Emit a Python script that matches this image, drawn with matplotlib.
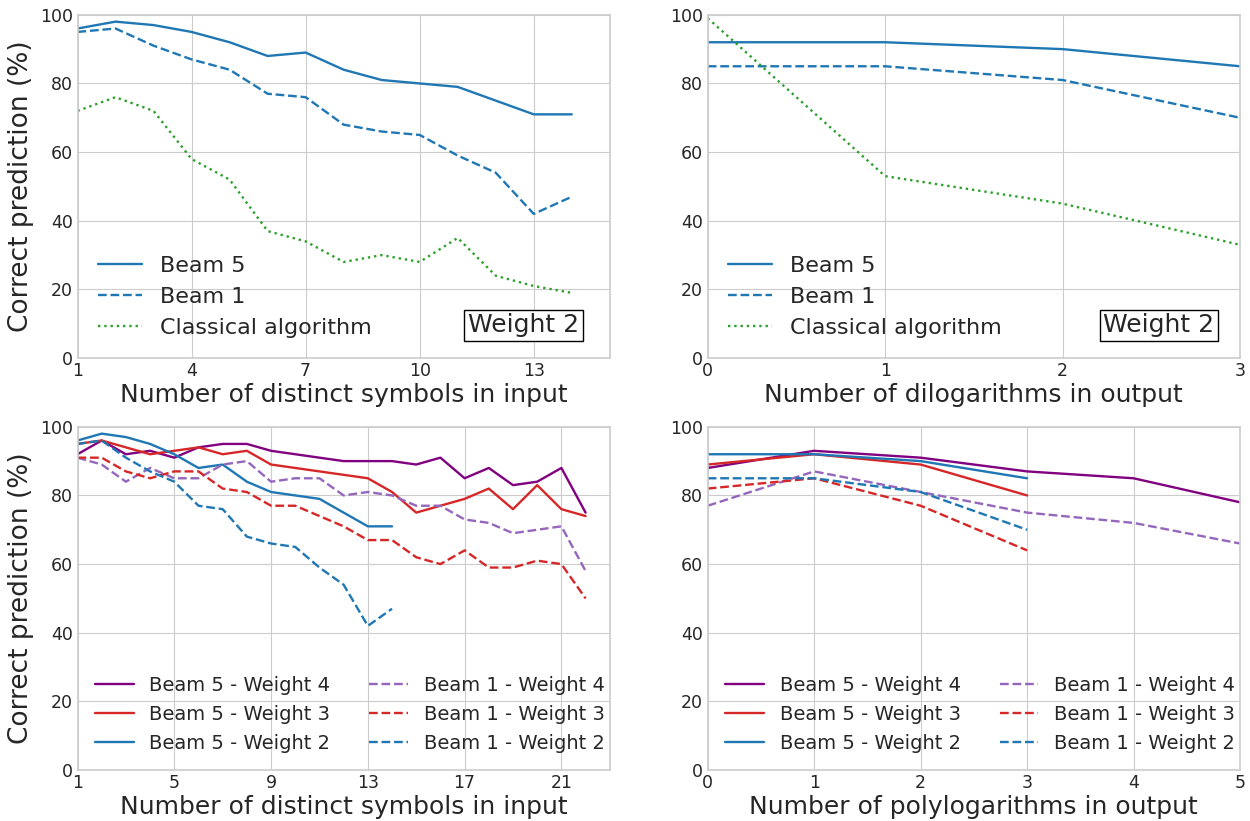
import matplotlib
matplotlib.use("Agg")
from matplotlib import pyplot as plt

plt.style.use("seaborn-v0_8-whitegrid")
plt.rcParams["font.family"] = ["DejaVu Sans"]

# top left: weight 2, distinct symbols in input
sym_x = list(range(1, 15))
sym_beam5 = [96, 98, 97, 95, 92, 88, 89, 84, 81, 80, 79, 75, 71, 71]
sym_beam1 = [95, 96, 91, 87, 84, 77, 76, 68, 66, 65, 59, 54, 42, 47]
sym_classical = [72, 76, 72, 58, 52, 37, 34, 28, 30, 28, 35, 24, 21, 19]

# top right: weight 2, dilogarithms in output
dilog_x = [0, 1, 2, 3]
dilog_beam5 = [92, 92, 90, 85]
dilog_beam1 = [85, 85, 81, 70]
dilog_classical = [99, 53, 45, 33]

# bottom left: all weights, distinct symbols in input
sym_x_long = list(range(1, 23))
sym_b5_w4 = [92, 96, 92, 93, 91, 94, 95, 95, 93, 92, 91, 90, 90, 90, 89, 91, 85, 88, 83, 84, 88, 75]
sym_b5_w3 = [95, 96, 94, 92, 93, 94, 92, 93, 89, 88, 87, 86, 85, 81, 75, 77, 79, 82, 76, 83, 76, 74]
sym_b1_w4 = [91, 89, 84, 88, 85, 85, 89, 90, 84, 85, 85, 80, 81, 80, 77, 77, 73, 72, 69, 70, 71, 58]
sym_b1_w3 = [91, 91, 87, 85, 87, 87, 82, 81, 77, 77, 74, 71, 67, 67, 62, 60, 64, 59, 59, 61, 60, 50]

# bottom right: all weights, polylogarithms in output
poly_x_long = [0, 1, 2, 3, 4, 5]
poly_x = [0, 1, 2, 3]
poly_b5_w4 = [88, 93, 91, 87, 85, 78]
poly_b5_w3 = [89, 92, 89, 80]
poly_b5_w2 = [92, 92, 90, 85]
poly_b1_w4 = [77, 87, 81, 75, 72, 66]
poly_b1_w3 = [82, 85, 77, 64]
poly_b1_w2 = [85, 85, 81, 70]

BLUE = "#1f77b4"
GREEN = "#2ca02c"
RED = "#d62728"
PURPLE = "purple"
LPURPLE = "#9467bd"
LW = 1.7

fig, axes = plt.subplots(2, 2, figsize=(12.5, 8.21), dpi=100)
fig.subplots_adjust(left=0.062, right=0.992, top=0.982, bottom=0.062,
                    wspace=0.184, hspace=0.2)
ax1, ax2, ax3, ax4 = axes.flat

for ax in axes.flat:
    ax.set_ylim(0, 100)
    ax.set_yticks([0, 20, 40, 60, 80, 100])
    ax.tick_params(labelsize=12.5)
    ax.tick_params(axis="x", pad=3)
    for s in ax.spines.values():
        s.set_visible(True)
        s.set_color("#cccccc")
        s.set_linewidth(1.2)

# --- top left
ax1.plot(sym_x, sym_beam5, color=BLUE, ls="-", lw=LW, label="Beam 5")
ax1.plot(sym_x, sym_beam1, color=BLUE, ls="--", lw=LW, label="Beam 1")
ax1.plot(sym_x, sym_classical, color=GREEN, ls=":", lw=LW, label="Classical algorithm")
ax1.set_xlim(1, 15)
ax1.set_xticks([1, 4, 7, 10, 13])
ax1.set_xlabel("Number of distinct symbols in input", fontsize=18, labelpad=2)
ax1.set_ylabel("Correct prediction (%)", fontsize=19)
ax1.legend(loc="lower left", fontsize=16, frameon=False)
ax1.text(0.942, 0.095, "Weight 2", transform=ax1.transAxes, ha="right", va="center",
         fontsize=18, bbox=dict(boxstyle="square,pad=0.15", fc="white", ec="black"))

# --- top right
ax2.plot(dilog_x, dilog_beam5, color=BLUE, ls="-", lw=LW, label="Beam 5")
ax2.plot(dilog_x, dilog_beam1, color=BLUE, ls="--", lw=LW, label="Beam 1")
ax2.plot(dilog_x, dilog_classical, color=GREEN, ls=":", lw=LW, label="Classical algorithm")
ax2.set_xlim(0, 3)
ax2.set_xticks([0, 1, 2, 3])
ax2.set_xlabel("Number of dilogarithms in output", fontsize=18, labelpad=2)
ax2.legend(loc="lower left", fontsize=16, frameon=False)
ax2.text(0.952, 0.095, "Weight 2", transform=ax2.transAxes, ha="right", va="center",
         fontsize=18, bbox=dict(boxstyle="square,pad=0.15", fc="white", ec="black"))

# --- bottom left
ax3.plot(sym_x_long, sym_b5_w4, color=PURPLE, ls="-", lw=LW, label="Beam 5 - Weight 4")
ax3.plot(sym_x_long, sym_b5_w3, color=RED, ls="-", lw=LW, label="Beam 5 - Weight 3")
ax3.plot(sym_x, sym_beam5, color=BLUE, ls="-", lw=LW, label="Beam 5 - Weight 2")
ax3.plot(sym_x_long, sym_b1_w4, color=LPURPLE, ls="--", lw=LW, label="Beam 1 - Weight 4")
ax3.plot(sym_x_long, sym_b1_w3, color=RED, ls="--", lw=LW, label="Beam 1 - Weight 3")
ax3.plot(sym_x, sym_beam1, color=BLUE, ls="--", lw=LW, label="Beam 1 - Weight 2")
ax3.set_xlim(1, 23)
ax3.set_xticks([1, 5, 9, 13, 17, 21])
ax3.set_xlabel("Number of distinct symbols in input", fontsize=18, labelpad=2)
ax3.set_ylabel("Correct prediction (%)", fontsize=19)
ax3.legend(loc="lower left", ncol=2, fontsize=14, frameon=False)

# --- bottom right
ax4.plot(poly_x_long, poly_b5_w4, color=PURPLE, ls="-", lw=LW, label="Beam 5 - Weight 4")
ax4.plot(poly_x, poly_b5_w3, color=RED, ls="-", lw=LW, label="Beam 5 - Weight 3")
ax4.plot(poly_x, poly_b5_w2, color=BLUE, ls="-", lw=LW, label="Beam 5 - Weight 2")
ax4.plot(poly_x_long, poly_b1_w4, color=LPURPLE, ls="--", lw=LW, label="Beam 1 - Weight 4")
ax4.plot(poly_x, poly_b1_w3, color=RED, ls="--", lw=LW, label="Beam 1 - Weight 3")
ax4.plot(poly_x, poly_b1_w2, color=BLUE, ls="--", lw=LW, label="Beam 1 - Weight 2")
ax4.set_xlim(0, 5)
ax4.set_xticks([0, 1, 2, 3, 4, 5])
ax4.set_xlabel("Number of polylogarithms in output", fontsize=18, labelpad=2)
ax4.legend(loc="lower left", ncol=2, fontsize=14, frameon=False)

fig.savefig("out.png", dpi=100)
